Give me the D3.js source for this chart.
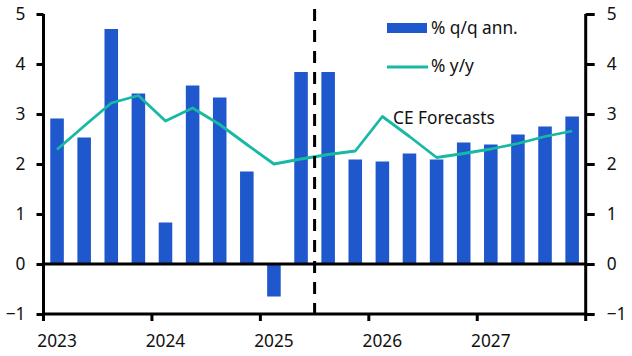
<!DOCTYPE html>
<html><head><meta charset="utf-8">
<script src="https://cdn.jsdelivr.net/npm/d3@7"></script>
<style>body{margin:0;background:#fff}svg{display:block}text{font-family:"Noto Sans",sans-serif;fill:#111}</style>
</head><body><svg id="c" width="632" height="356"></svg>
<script>
const quarters = ["2023Q1","2023Q2","2023Q3","2023Q4","2024Q1","2024Q2","2024Q3","2024Q4","2025Q1","2025Q2","2025Q3","2025Q4","2026Q1","2026Q2","2026Q3","2026Q4","2027Q1","2027Q2","2027Q3","2027Q4"];
const qqAnn = [2.91,2.53,4.70,3.41,0.83,3.57,3.33,1.85,-0.65,3.84,3.84,2.09,2.05,2.21,2.09,2.43,2.39,2.59,2.75,2.95];
const yy = [2.29,2.76,3.22,3.37,2.86,3.12,2.79,2.39,2.00,2.10,2.19,2.26,2.95,2.55,2.13,2.21,2.30,2.41,2.55,2.66];
const years = ["2023","2024","2025","2026","2027"];
const yTicks = [-1,0,1,2,3,4,5];
const forecastStart = "2025Q3";

const FS = "17.3px";
const svg = d3.select("#c");
const L = 43.5, R = 585.7;
const x = d3.scaleBand().domain(quarters).range([L, R]).paddingInner(0.5).paddingOuter(0.25);
const y = d3.scaleLinear().domain([-1, 5]).range([314, 14]);
const step = x.step();
const qStart = q => x(q) - step * 0.25;

// bars
svg.append("g").selectAll("rect").data(quarters).join("rect")
  .attr("x", q => x(q)).attr("width", x.bandwidth())
  .attr("y", (q, i) => y(Math.max(0, qqAnn[i])))
  .attr("height", (q, i) => Math.abs(y(qqAnn[i]) - y(0)))
  .attr("fill", "#1f57cc");

// line
const line = d3.line().x((d, i) => x(quarters[i]) + x.bandwidth() / 2).y(d => y(d));
svg.append("path").datum(yy).attr("d", line).attr("fill", "none")
  .attr("stroke", "#17b9a5").attr("stroke-width", 2.8).attr("stroke-linejoin", "round");

// zero line
svg.append("line").attr("x1", L).attr("x2", R).attr("y1", y(0)).attr("y2", y(0))
  .attr("stroke", "#000").attr("stroke-width", 3);

// left axis
const leftAxis = d3.axisLeft(y).tickValues(yTicks).tickSize(7).tickSizeOuter(0).tickPadding(11).tickFormat(d3.format("d"));
const gl = svg.append("g").attr("transform", `translate(${L},0)`).call(leftAxis);
gl.select(".domain").attr("stroke", "#000").attr("stroke-width", 3).attr("d", `M0,${y(5)}V${y(-1)+1.5}`);
gl.selectAll(".tick line").attr("stroke", "#000").attr("stroke-width", 3);
gl.selectAll(".tick text").style("font-size", FS).style("font-family", "Noto Sans").attr("fill", "#111");

// right axis
const rightAxis = d3.axisRight(y).tickValues(yTicks).tickSize(9).tickSizeOuter(0).tickPadding(12).tickFormat(d3.format("d"));
const gr = svg.append("g").attr("transform", `translate(${R},0)`).call(rightAxis);
gr.select(".domain").attr("stroke", "#000").attr("stroke-width", 3).attr("d", `M0,${y(5)}V${y(-1)+1.5}`);
gr.selectAll(".tick line").attr("stroke", "#000").attr("stroke-width", 3);
gr.selectAll(".tick text").style("font-size", FS).style("font-family", "Noto Sans").attr("fill", "#111");

// bottom axis
const yearStarts = years.map(yr => qStart(yr + "Q1")).concat([R]);
svg.append("line").attr("x1", L - 1.5).attr("x2", R + 1.5).attr("y1", y(-1)).attr("y2", y(-1))
  .attr("stroke", "#000").attr("stroke-width", 3);
svg.append("g").selectAll("line").data(yearStarts).join("line")
  .attr("x1", d => d).attr("x2", d => d).attr("y1", y(-1)).attr("y2", y(-1) + 7)
  .attr("stroke", "#000").attr("stroke-width", 3);
svg.append("g").selectAll("text").data(years).join("text")
  .attr("x", yr => x(yr + "Q1") + x.bandwidth() / 2).attr("y", 347)
  .attr("text-anchor", "middle").style("font-size", FS).text(d => d);

// forecast divider
const fx = qStart(forecastStart);
svg.append("line").attr("x1", fx).attr("x2", fx).attr("y1", 9).attr("y2", y(-1))
  .attr("stroke", "#000").attr("stroke-width", 3).attr("stroke-dasharray", "12,9");

// legend
svg.append("rect").attr("x", 387).attr("y", 23).attr("width", 40).attr("height", 10).attr("fill", "#1f57cc");
svg.append("text").attr("x", 431).attr("y", 33.5).style("font-size", FS).text("% q/q ann.");
svg.append("line").attr("x1", 387).attr("x2", 428).attr("y1", 67).attr("y2", 67)
  .attr("stroke", "#17b9a5").attr("stroke-width", 2.8);
svg.append("text").attr("x", 431).attr("y", 72).style("font-size", FS).text("% y/y");
svg.append("text").attr("x", 393).attr("y", 124).style("font-size", FS).text("CE Forecasts");
</script></body></html>
